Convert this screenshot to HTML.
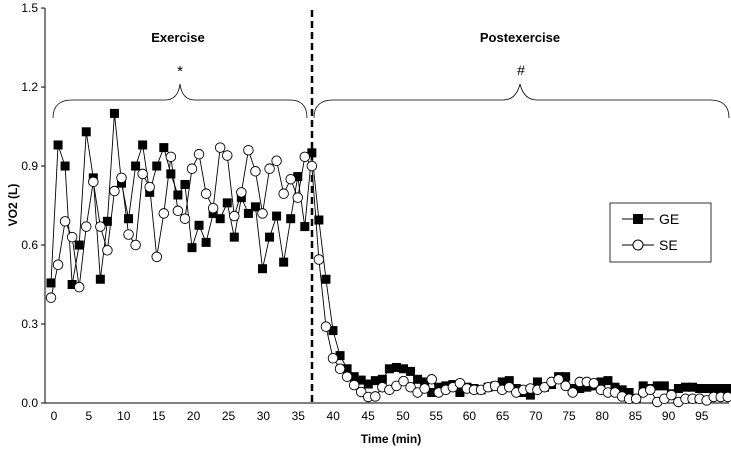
<!DOCTYPE html>
<html><head><meta charset="utf-8"><style>
body{margin:0;background:#fff;}
svg{display:block;font-family:"Liberation Sans",Arial,sans-serif;}
</style></head><body>
<svg id="chart" width="731" height="450" viewBox="0 0 731 450" xmlns="http://www.w3.org/2000/svg">
<g id="axes"></g>
<g id="annot">
<text x="178" y="42" text-anchor="middle" font-size="13" font-weight="bold">Exercise</text>
<text x="520" y="42" text-anchor="middle" font-size="13" font-weight="bold">Postexercise</text>
<text x="180" y="76" text-anchor="middle" font-size="15">*</text>
<text x="521" y="75" text-anchor="middle" font-size="14">#</text>
<path d="M53,118 Q53,100 72,100 L165,100 Q178,100 180,84 Q182,100 195,100 L290,100 Q307,100 307,118" fill="none" stroke="#000" stroke-width="0.8"/>
<path d="M314,118 Q314,100 333,100 L503,100 Q516,100 520,84 Q524,100 537,100 L710,100 Q729,100 729,118" fill="none" stroke="#000" stroke-width="0.8"/>
<line x1="312" y1="10" x2="312" y2="403" stroke="#000" stroke-width="2.5" stroke-dasharray="7,4"/>
</g>
<g id="series"></g>
<g>
<rect x="610" y="203" width="101" height="59" fill="#fff" stroke="#000" stroke-width="0.8"/>
<g>
<line x1="622" y1="219" x2="654" y2="219" stroke="#000"/><rect x="633" y="214" width="10" height="10" fill="#000"/>
<text x="659" y="224" font-size="14">GE</text></g>
<g>
<line x1="622" y1="245" x2="654" y2="245" stroke="#000"/><circle cx="638" cy="245" r="5" fill="#fff" stroke="#000"/>
<text x="659" y="250" font-size="14">SE</text></g>
</g>
<text x="391" y="443" text-anchor="middle" font-size="12" font-weight="bold">Time (min)</text>
<text x="0" y="0" transform="translate(17,205) rotate(-90)" text-anchor="middle" font-size="12" font-weight="bold">VO2 (L)</text>
</svg>
<script>
const geValues=[0.456,0.98,0.90,0.45,0.60,1.03,0.855,0.47,0.69,1.10,0.835,0.70,0.90,0.98,0.80,0.90,0.97,0.87,0.79,0.83,0.59,0.675,0.61,0.72,0.70,0.76,0.63,0.78,0.72,0.745,0.51,0.63,0.71,0.535,0.70,0.86,0.67,0.95,
0.695,0.47,0.275,0.18,0.13,0.10,0.087,0.072,0.085,0.09,0.13,0.135,0.13,0.12,0.09,0.08,0.04,0.06,0.065,0.07,0.04,0.06,0.055,0.05,0.06,0.065,0.08,0.085,0.055,0.04,0.03,0.08,0.06,0.07,0.10,0.10,0.055,0.055,0.06,0.065,0.08,0.085,0.06,0.05,0.04,0.016,0.065,0.055,0.065,0.065,0.035,0.055,0.06,0.06,0.055,0.055,0.055,0.055,0.055];
const seValues=[0.40,0.525,0.69,0.63,0.44,0.67,0.84,0.67,0.58,0.805,0.855,0.64,0.60,0.87,0.82,0.555,0.72,0.935,0.73,0.70,0.89,0.945,0.795,0.74,0.97,0.94,0.71,0.80,0.96,0.88,0.72,0.89,0.92,0.795,0.85,0.78,0.935,0.90,
0.545,0.29,0.17,0.13,0.10,0.068,0.042,0.023,0.025,0.06,0.05,0.065,0.083,0.06,0.04,0.055,0.09,0.04,0.05,0.06,0.075,0.055,0.05,0.05,0.06,0.065,0.05,0.06,0.04,0.05,0.055,0.05,0.06,0.08,0.09,0.065,0.04,0.08,0.08,0.075,0.05,0.04,0.04,0.025,0.016,0.016,0.04,0.05,0.004,0.016,0.03,0.004,0.016,0.016,0.016,0.01,0.023,0.023,0.023];
const xTicks=[0,5,10,15,20,25,30,35,40,45,50,55,60,65,70,75,80,85,90,95];
const yTicks=[0,0.3,0.6,0.9,1.2,1.5];
const yTickLabels=["0.0","0.3","0.6","0.9","1.2","1.5"];
const NS="http://www.w3.org/2000/svg";
function xs(t){return 51+t*7.05;}
// tick-label axis of the original is compressed beyond 50 min
function xl(t){return t<=50?54+t*6.98:403+(t-50)*6.64;}
function ys(v){return 403-v*263.3;}
function mk(tag,attrs,parent){const e=document.createElementNS(NS,tag);for(const k in attrs)e.setAttribute(k,attrs[k]);parent.appendChild(e);return e;}
const axes=document.getElementById('axes');
let a=mk('line',{x1:45,y1:8,x2:45,y2:403,stroke:'#000'},axes);


a=mk('line',{x1:45,y1:403,x2:729,y2:403,stroke:'#000'},axes);


yTicks.forEach((v,i)=>{
  const tk=mk('line',{x1:41,y1:ys(v),x2:45,y2:ys(v),stroke:'#000'},axes);
  
  
  const t=mk('text',{x:38,y:ys(v)+4,'text-anchor':'end','font-size':12},axes);
  
  
  t.textContent=yTickLabels[i];
});
xTicks.forEach(v=>{
  const t=mk('text',{x:xl(v),y:420,'text-anchor':'middle','font-size':12},axes);
  
  
  t.textContent=v;
});
const ser=document.getElementById('series');
function drawSeries(vals,name,shape){
  const g=mk('g',{},ser);
  
  
  const l=mk('polyline',{points:vals.map((v,i)=>xs(i)+','+ys(v)).join(' '),fill:'none',stroke:'#000','stroke-width':0.9},g);
  
  
  vals.forEach((v,i)=>{
    let m;
    if(shape==='sq') m=mk('rect',{x:xs(i)-4.5,y:ys(v)-4.5,width:9,height:9,fill:'#000'},g);
    else m=mk('circle',{cx:xs(i),cy:ys(v),r:4.8,fill:'#fff',stroke:'#000','stroke-width':0.9},g);
    
    
  });
}
drawSeries(geValues,'ge','sq');
drawSeries(seValues,'se','ci');
</script>
</body></html>
